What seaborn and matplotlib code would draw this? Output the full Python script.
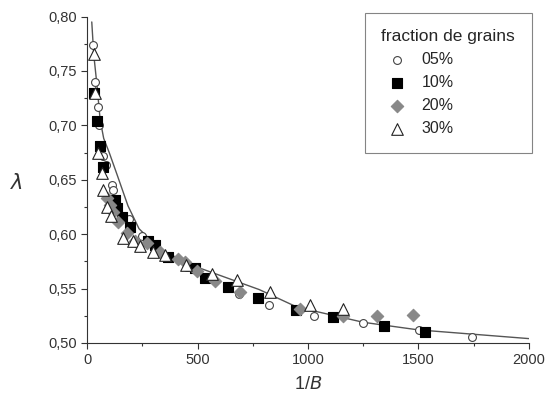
import pandas as pd
import matplotlib
matplotlib.use("Agg")
import matplotlib.pyplot as plt
import seaborn as sns
from matplotlib.ticker import FuncFormatter, MultipleLocator

# données
x_05 = [26, 36, 47, 54, 74, 86, 112, 116, 188, 247, 308, 357, 451, 542, 688, 824, 1027, 1247, 1504, 1741]
y_05 = [0.774, 0.740, 0.717, 0.700, 0.672, 0.664, 0.645, 0.641, 0.614, 0.598, 0.588, 0.580, 0.570, 0.559, 0.545, 0.535, 0.525, 0.518, 0.512, 0.5055]

x_10 = [30, 44, 59, 71, 127, 137, 157, 195, 276, 308, 367, 489, 534, 638, 774, 946, 1112, 1344, 1529]
y_10 = [0.730, 0.704, 0.681, 0.662, 0.631, 0.624, 0.616, 0.607, 0.594, 0.590, 0.579, 0.569, 0.560, 0.551, 0.541, 0.530, 0.524, 0.516, 0.510]

x_20 = [89, 104, 119, 141, 180, 217, 270, 330, 413, 443, 496, 579, 692, 964, 1158, 1311, 1477]
y_20 = [0.633, 0.627, 0.620, 0.611, 0.601, 0.594, 0.592, 0.584, 0.577, 0.574, 0.566, 0.557, 0.547, 0.531, 0.525, 0.525, 0.526]

x_30 = [29, 36, 51, 66, 74, 89, 107, 161, 207, 240, 300, 354, 448, 564, 677, 828, 1009, 1157]
y_30 = [0.766, 0.730, 0.675, 0.656, 0.641, 0.625, 0.617, 0.596, 0.594, 0.589, 0.584, 0.581, 0.572, 0.563, 0.558, 0.547, 0.535, 0.531]

# courbe d'ajustement (lue point par point)
x_fit = [21, 30, 44, 59, 75, 100, 135, 185, 235, 330, 480, 780, 950, 1250, 1500, 1750, 2000]
y_fit = [0.795, 0.765, 0.738, 0.705, 0.688, 0.675, 0.655, 0.626, 0.605, 0.586, 0.571, 0.549, 0.533, 0.519, 0.512, 0.508, 0.504]

sns.set_style("ticks")
plt.rcParams["font.family"] = ["Liberation Sans", "DejaVu Sans"]

fig = plt.figure(figsize=(5.48, 4.03), dpi=100)
ax = fig.add_axes([0.159, 0.149, 0.806, 0.81])

df_fit = pd.DataFrame({"x": x_fit, "y": y_fit})
sns.lineplot(data=df_fit, x="x", y="y", color="#555555", lw=1.0, ax=ax, sort=True)

series = [
    (x_05, y_05, "05%", "o", "white", "#444444", 32),
    (x_10, y_10, "10%", "s", "black", "black", 42),
    (x_20, y_20, "20%", "D", "#888888", "#888888", 40),
    (x_30, y_30, "30%", "^", "white", "#222222", 70),
]
for xs, ys, lab, mk, fc, ec, sz in series:
    sns.scatterplot(x=xs, y=ys, marker=mk, color=fc, edgecolor=ec, linewidth=0.8,
                    s=sz, label=lab, ax=ax, zorder=3)

ax.set_xlim(0, 2000)
ax.set_ylim(0.50, 0.80)
ax.xaxis.set_major_locator(MultipleLocator(500))
ax.xaxis.set_minor_locator(MultipleLocator(250))
ax.yaxis.set_major_locator(MultipleLocator(0.05))
ax.yaxis.set_minor_locator(MultipleLocator(0.025))
ax.yaxis.set_major_formatter(FuncFormatter(lambda v, p: f"{v:.2f}".replace(".", ",")))
ax.tick_params(which="major", direction="out", length=4, width=0.8, labelsize=10.5, colors="#333333")
ax.tick_params(which="minor", direction="out", length=2.5, width=0.8, colors="#333333")
for s in ["top", "right"]:
    ax.spines[s].set_visible(False)
for s in ["left", "bottom"]:
    ax.spines[s].set_color("#333333")

ax.set_xlabel("1/$\\it{B}$", fontsize=13, color="#333333", labelpad=6)
ax.set_ylabel("$\\lambda$", fontsize=15, rotation=0, color="#333333")
ax.yaxis.set_label_coords(-0.16, 0.46)

leg = ax.legend(title="fraction de grains", loc="upper right", bbox_to_anchor=(1.007, 1.012),
                borderaxespad=0, frameon=True, fancybox=False, edgecolor="#666666",
                fontsize=11.5, title_fontsize=12.5, handlelength=1.9, handletextpad=0.6,
                borderpad=1.05, labelspacing=0.5, alignment="left")
leg.get_frame().set_linewidth(0.8)

fig.savefig("out.png", dpi=100)
